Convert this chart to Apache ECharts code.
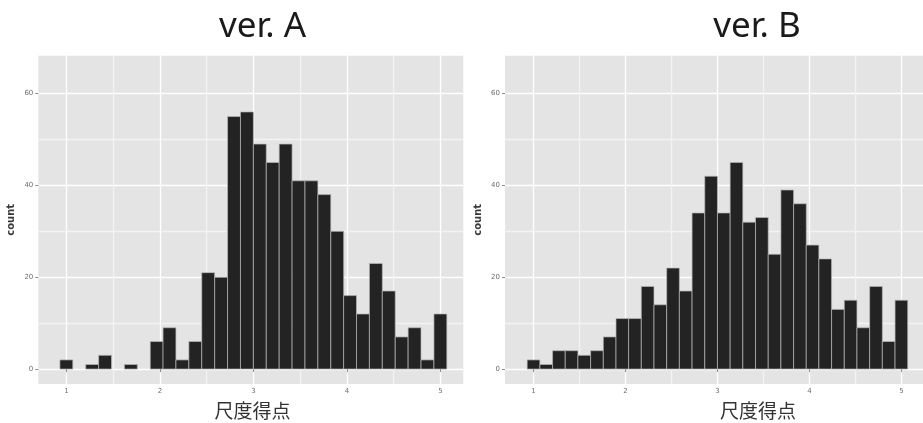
<!DOCTYPE html>
<html>
<head>
<meta charset="utf-8">
<script src="https://cdn.jsdelivr.net/npm/echarts@6/dist/echarts.min.js"></script>
<style>
html,body{margin:0;padding:0;background:#fff;}
#chart{width:923px;height:423px;}
</style>
</head>
<body>
<div id="chart"></div>
<script>
// ---- data ----
const panelTitles = ['ver. A', 'ver. B'];
const xAxisTitle = '尺度得点';
const yAxisTitle = 'count';
const binCenters = [1.000,1.138,1.276,1.414,1.552,1.690,1.828,1.966,2.103,2.241,
                    2.379,2.517,2.655,2.793,2.931,3.069,3.207,3.345,3.483,3.621,
                    3.759,3.897,4.034,4.172,4.310,4.448,4.586,4.724,4.862,5.000];
const binWidth = 0.1379;
const countsA = [2,0,1,3,0,1,0,6,9,2,6,21,20,55,56,49,45,49,41,41,38,30,16,12,23,17,7,9,2,12];
const countsB = [2,1,4,4,3,4,7,11,11,18,14,22,17,34,42,34,45,32,33,25,39,36,27,24,13,15,9,18,6,15];
const xTickLabels = [1,2,3,4,5];
const xGridValues = [1,1.5,2,2.5,3,3.5,4,4.5,5];
const yTickLabels = [0,20,40,60];
const yGridValues = [0,10,20,30,40,50,60];

// ---- layout ----
const panels = [
  {left:38.3, top:55.7, width:425, height:328.3, xmin:0.70, xmax:5.245, titleX:262.5, xnameX:252.5, counts:countsA},
  {left:505,  top:55.7, width:425, height:328.3, xmin:0.69, xmax:5.235, titleX:757, xnameX:758, counts:countsB}
];
const ymin = -3.25, ymax = 68.25;

const chart = echarts.init(document.getElementById('chart'), null, {renderer:'canvas'});

const grids = [], xAxes = [], yAxes = [], series = [], graphics = [];
const tickFont = {fontSize:7, color:'#6e6e6e', fontFamily:'DejaVu Sans'};

panels.forEach((p, k) => {
  grids.push({left:p.left, top:p.top, width:p.width, height:p.height,
              show:true, backgroundColor:'#e4e4e4', borderWidth:0});
  // main x axis: grid lines + labels
  xAxes.push({type:'value', gridIndex:k, min:p.xmin, max:p.xmax, position:'bottom',
    axisLine:{show:false},
    axisTick:{show:false, customValues:xGridValues},
    axisLabel:Object.assign({customValues:xTickLabels, margin:4}, tickFont),
    splitLine:{show:true, lineStyle:{color:['#ffffff','#f3f3f3'], width:1.3}},
    minorSplitLine:{show:false}
  });
  // tick marks only
  xAxes.push({type:'value', gridIndex:k, min:p.xmin, max:p.xmax, position:'bottom', offset:0,
    axisLine:{show:false},
    axisTick:{show:true, length:3, customValues:xTickLabels, lineStyle:{color:'#6e6e6e', width:0.8}},
    axisLabel:{show:false}, splitLine:{show:false}
  });
  yAxes.push({type:'value', gridIndex:k, min:ymin, max:ymax, position:'left',
    name:yAxisTitle, nameLocation:'middle', nameGap:22,
    nameTextStyle:{fontSize:10, fontWeight:'bold', color:'#3a3a3a', fontFamily:'DejaVu Sans'},
    axisLine:{show:false},
    axisTick:{show:false, customValues:yGridValues},
    axisLabel:Object.assign({customValues:yTickLabels, margin:5}, tickFont),
    splitLine:{show:true, lineStyle:{color:['#ffffff','#f3f3f3'], width:1.3}}
  });
  yAxes.push({type:'value', gridIndex:k, min:ymin, max:ymax, position:'left', offset:0,
    axisLine:{show:false},
    axisTick:{show:true, length:3, customValues:yTickLabels, lineStyle:{color:'#6e6e6e', width:0.8}},
    axisLabel:{show:false}, splitLine:{show:false}
  });
  series.push({
    type:'custom', xAxisIndex:2*k, yAxisIndex:2*k,
    data: binCenters.map((c, i) => [c, p.counts[i]]),
    renderItem: function (params, api) {
      const c = api.value(0), v = api.value(1);
      if (!v) return null;
      const a = api.coord([c - binWidth/2, v]);
      const b = api.coord([c + binWidth/2, 0]);
      return {type:'rect', shape:{x:a[0], y:a[1], width:b[0]-a[0], height:b[1]-a[1]},
              style:{fill:'#232323', stroke:'#b8b8b8', lineWidth:0.7}};
    },
    silent:true, animation:false
  });
  graphics.push({type:'text', x:p.titleX, y:27, style:{text:panelTitles[k], fontSize:35,
      fontFamily:'Noto Sans', fill:'#1a1a1a', align:'center', verticalAlign:'middle'}});
  graphics.push({type:'text', x:p.xnameX, y:411, style:{text:xAxisTitle, fontSize:19,
      fontFamily:'Noto Sans CJK JP', fill:'#333333', align:'center', verticalAlign:'middle'}});
});

chart.setOption({
  animation:false,
  backgroundColor:'#ffffff',
  grid:grids, xAxis:xAxes, yAxis:yAxes, series:series, graphic:graphics
});
</script>
</body>
</html>
